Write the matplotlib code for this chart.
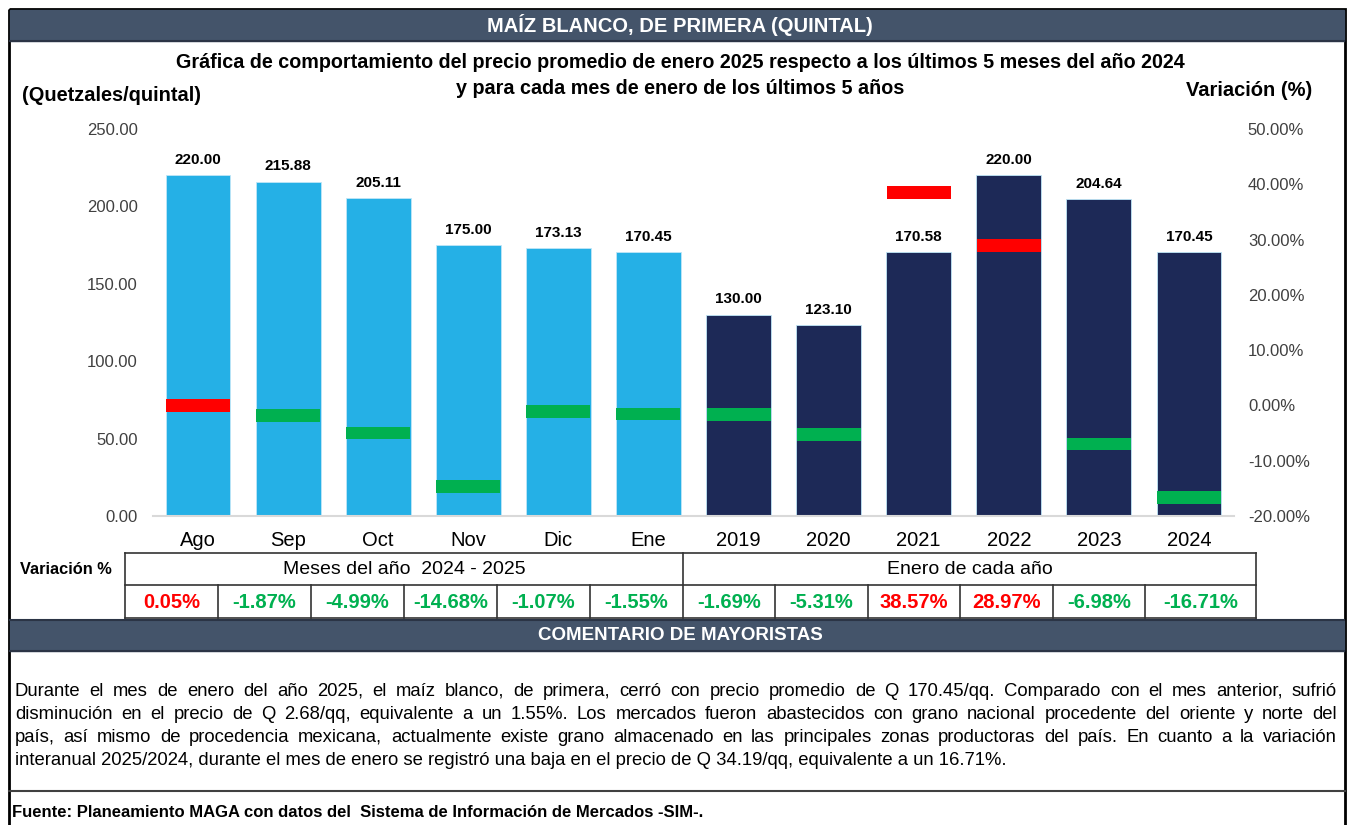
import numpy as np
import matplotlib
matplotlib.use("Agg")
import matplotlib.pyplot as plt
from matplotlib.patches import Rectangle

plt.rcParams['font.family'] = ['Liberation Sans', 'DejaVu Sans']

W, H = 1354, 825

categories = ["Ago", "Sep", "Oct", "Nov", "Dic", "Ene",
              "2019", "2020", "2021", "2022", "2023", "2024"]
prices = [220.00, 215.88, 205.11, 175.00, 173.13, 170.45,
          130.00, 123.10, 170.58, 220.00, 204.64, 170.45]
variation = [0.05, -1.87, -4.99, -14.68, -1.07, -1.55,
             -1.69, -5.31, 38.57, 28.97, -6.98, -16.71]
n_months = 6  # first six bars are months, the rest january of each year
group_labels = ["Meses del año  2024 - 2025", "Enero de cada año"]

header = "MAÍZ BLANCO, DE PRIMERA (QUINTAL)"
title = ["Gráfica de comportamiento del precio promedio de enero 2025 respecto a los últimos 5 meses del año 2024",
         "y para cada mes de enero de los últimos 5 años"]
comment_header = "COMENTARIO DE MAYORISTAS"
comment = [
    "Durante el mes de enero del año 2025, el maíz blanco, de primera, cerró con precio promedio de Q 170.45/qq. Comparado con el mes anterior, sufrió",
    "disminución en el precio de Q 2.68/qq, equivalente a un 1.55%. Los mercados fueron abastecidos con grano nacional procedente del oriente y norte del",
    "país, así mismo de procedencia mexicana, actualmente existe grano almacenado en las principales zonas productoras del país. En cuanto a la variación",
    "interanual 2025/2024, durante el mes de enero se registró una baja en el precio de Q 34.19/qq, equivalente a un 16.71%.",
]
source = "Fuente: Planeamiento MAGA con datos del  Sistema de Información de Mercados -SIM-."

LIGHT = "#25B0E6"
NAVY = "#1D2957"
UP = "#FF0000"
DOWN = "#00B050"
SLATE = "#44546A"

fig = plt.figure(figsize=(W / 100, H / 100), dpi=100)

# background layer in pixel coordinates (y down)
bg = fig.add_axes([0, 0, 1, 1])
bg.set_xlim(0, W)
bg.set_ylim(H, 0)
bg.axis('off')

bg.add_patch(Rectangle((9, 9), 1336, 830, fill=False, ec='black', lw=2))
bg.add_patch(Rectangle((10, 10), 1334, 31, color=SLATE))
bg.plot([10, 1344], [41, 41], color='#2B3445', lw=1.5)
bg.text(680, 25, header, color='white', fontsize=14.5, fontweight='bold',
        ha='center', va='center')

bg.text(680, 68, title[0], fontsize=14.2, fontweight='bold', ha='center', va='baseline')
bg.text(680, 94, title[1], fontsize=14.2, fontweight='bold', ha='center', va='baseline')
bg.text(22, 101, "(Quetzales/quintal)", fontsize=14.4, fontweight='bold', va='baseline')
bg.text(1312, 96, "Variación (%)", fontsize=14.5, fontweight='bold', ha='right', va='baseline')

# chart
ax = fig.add_axes([153 / W, (H - 516) / H, (1234 - 153) / W, (516 - 129) / H])
ax.patch.set_alpha(0)
x = np.arange(len(categories))
colors = [LIGHT if i < n_months else NAVY for i in x]
ax.bar(x, prices, width=0.72, color=colors, edgecolor='#BFE6F7', linewidth=0.6)
for xi, p in zip(x, prices):
    ax.annotate(f"{p:.2f}", (xi, p), xytext=(0, 6), textcoords='offset points',
                ha='center', va='bottom', fontsize=11, fontweight='bold')
ax.set_xlim(-0.5, len(categories) - 0.5)
ax.set_ylim(0, 250)
ax.set_yticks(np.arange(0, 251, 50))
ax.set_yticklabels([f"{v:.2f}" for v in np.arange(0, 251, 50)])
ax.set_xticks(x)
ax.set_xticklabels(categories, fontsize=14.5)
ax.tick_params(axis='y', length=0, pad=11, labelsize=12, labelcolor='#404040')
ax.tick_params(axis='x', length=0, pad=11)
for s in ['top', 'left', 'right']:
    ax.spines[s].set_visible(False)
ax.spines['bottom'].set_color('#D9D9D9')
ax.spines['bottom'].set_linewidth(1.5)

ax2 = ax.twinx()
var = np.array(variation) / 100
mh = 0.023
mcol = [UP if v > 0 else DOWN for v in var]
ax2.bar(x, mh, bottom=var - mh / 2, width=0.71, color=mcol)
ax2.set_ylim(-0.2, 0.5)
ticks = np.arange(-0.2, 0.51, 0.1)
ax2.set_yticks(ticks)
ax2.set_yticklabels([f"{t * 100:.2f}%" for t in ticks])
ax2.tick_params(axis='y', length=0, pad=10, labelsize=12, labelcolor='#404040')
for s in ax2.spines.values():
    s.set_visible(False)

# variation table
cell_x = [125, 218, 311, 404, 497, 590, 683, 775, 868, 960, 1053, 1145, 1256]
r0, r1, r2 = 553, 585, 618
bg.text(20, 569, "Variación %", fontsize=11.8, fontweight='bold', va='center')
tc = '#333333'
for ry in (r0, r1, r2):
    bg.plot([cell_x[0], cell_x[-1]], [ry, ry], color=tc, lw=1.2)
for i, cx in enumerate(cell_x):
    top = r0 if i in (0, n_months, len(cell_x) - 1) else r1
    bg.plot([cx, cx], [top, r2], color=tc, lw=1.2)
bg.text((cell_x[0] + cell_x[n_months]) / 2, (r0 + r1) / 2, group_labels[0],
        fontsize=14, ha='center', va='center')
bg.text((cell_x[n_months] + cell_x[-1]) / 2, (r0 + r1) / 2, group_labels[1],
        fontsize=14, ha='center', va='center')
for i, v in enumerate(variation):
    bg.text((cell_x[i] + cell_x[i + 1]) / 2, (r1 + r2) / 2 + 1, f"{v:.2f}%",
            fontsize=14.5, fontweight='bold', color=UP if v > 0 else DOWN,
            ha='center', va='center')

# comment block
bg.add_patch(Rectangle((10, 620), 1334, 31, color=SLATE))
bg.plot([10, 1344], [620, 620], color='#2B3445', lw=1.5)
bg.plot([10, 1344], [651, 651], color='#2B3445', lw=1.5)
bg.text(680, 636, comment_header, color='white', fontsize=13.5, fontweight='bold',
        ha='center', va='center')

renderer = fig.canvas.get_renderer()
left, right = 15, 1337
body_size = 13.3
for k, line in enumerate(comment):
    y = 696 + 23 * k
    if k == len(comment) - 1:
        bg.text(left, y, line, fontsize=body_size, va='baseline')
        continue
    words = line.split(' ')
    texts = [bg.text(0, y, w, fontsize=body_size, va='baseline') for w in words]
    widths = [t.get_window_extent(renderer).width for t in texts]
    gap = (right - left - sum(widths)) / (len(words) - 1)
    pos = left
    for t, w in zip(texts, widths):
        t.set_x(pos)
        pos += w + gap

bg.plot([9, 1345], [791, 791], color='#404040', lw=1.5)
bg.text(12, 817, source, fontsize=12, fontweight='bold', va='baseline')

fig.savefig("out.png", dpi=100)
